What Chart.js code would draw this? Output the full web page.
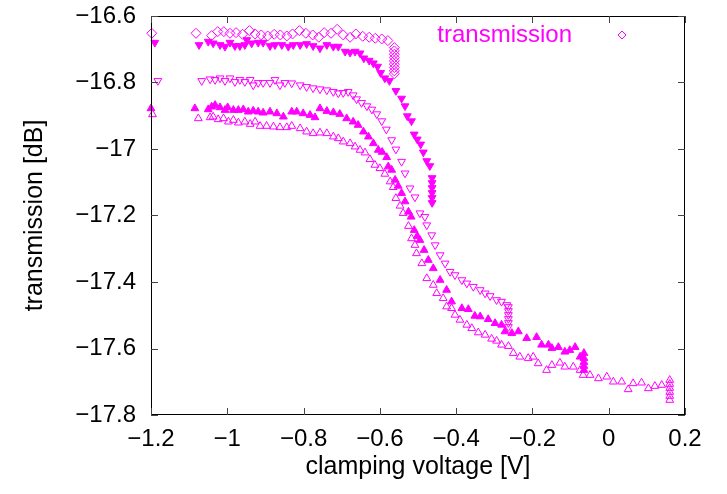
<!DOCTYPE html>
<html>
<head>
<meta charset="utf-8">
<script src="https://cdn.jsdelivr.net/npm/chart.js@4/dist/chart.umd.min.js"></script>
<style>
  html, body { margin: 0; background: #fff; }
  canvas { display: block; }
</style>
</head>
<body>
<canvas id="chart" width="727" height="494"></canvas>
<script>
// tick positions
const xTicks = [-1.2, -1, -0.8, -0.6, -0.4, -0.2, 0, 0.2];
const yTicks = [-17.8, -17.6, -17.4, -17.2, -17, -16.8, -16.6];

// open diamonds (top sweep), [voltage, dB]
const diamonds = [
  [-1.198, -16.652], [-1.082, -16.652], [-1.041, -16.659], [-1.025, -16.647], [-1.009, -16.647],
  [-0.993, -16.652], [-0.977, -16.650], [-0.960, -16.655], [-0.942, -16.644], [-0.927, -16.654],
  [-0.911, -16.657], [-0.894, -16.660], [-0.877, -16.655], [-0.861, -16.657], [-0.844, -16.660],
  [-0.829, -16.654], [-0.811, -16.644], [-0.794, -16.652], [-0.776, -16.657], [-0.760, -16.664],
  [-0.746, -16.650], [-0.728, -16.652], [-0.712, -16.640], [-0.696, -16.657], [-0.678, -16.664],
  [-0.663, -16.654], [-0.645, -16.661], [-0.628, -16.664], [-0.612, -16.667], [-0.595, -16.669],
  [-0.579, -16.674], [-0.562, -16.695], [-0.562, -16.705], [-0.562, -16.715], [-0.562, -16.725],
  [-0.562, -16.735], [-0.562, -16.745], [-0.562, -16.755], [-0.562, -16.765], [-0.562, -16.774]
];

// filled down triangles
const downFilled = [
  [-1.190, -16.680], [-1.074, -16.687], [-1.050, -16.677], [-1.037, -16.682], [-1.019, -16.687],
  [-1.006, -16.692], [-0.993, -16.680], [-0.980, -16.690], [-0.967, -16.690], [-0.954, -16.687],
  [-0.949, -16.672], [-0.936, -16.682], [-0.919, -16.680], [-0.906, -16.680], [-0.888, -16.690],
  [-0.875, -16.687], [-0.857, -16.687], [-0.840, -16.692], [-0.827, -16.687], [-0.809, -16.687],
  [-0.792, -16.684], [-0.775, -16.690], [-0.757, -16.697], [-0.739, -16.687], [-0.722, -16.692],
  [-0.709, -16.692], [-0.691, -16.707], [-0.678, -16.710], [-0.665, -16.707], [-0.652, -16.712],
  [-0.642, -16.727], [-0.628, -16.734], [-0.617, -16.742], [-0.606, -16.752], [-0.598, -16.771],
  [-0.587, -16.787], [-0.575, -16.795], [-0.558, -16.825], [-0.543, -16.848], [-0.534, -16.871],
  [-0.528, -16.901], [-0.517, -16.916], [-0.510, -16.956], [-0.502, -16.971], [-0.493, -16.986],
  [-0.486, -17.010], [-0.477, -17.036], [-0.469, -17.051], [-0.463, -17.087], [-0.463, -17.102],
  [-0.463, -17.117], [-0.463, -17.132], [-0.463, -17.147], [-0.463, -17.162]
];

// open down triangles
const downOpen = [
  [-1.182, -16.795], [-1.067, -16.795], [-1.045, -16.790], [-1.032, -16.792], [-1.019, -16.787],
  [-1.006, -16.795], [-0.993, -16.787], [-0.980, -16.798], [-0.967, -16.792], [-0.954, -16.798],
  [-0.940, -16.792], [-0.932, -16.808], [-0.919, -16.801], [-0.906, -16.801], [-0.888, -16.801],
  [-0.875, -16.792], [-0.862, -16.808], [-0.849, -16.801], [-0.831, -16.802], [-0.809, -16.808],
  [-0.792, -16.813], [-0.775, -16.817], [-0.757, -16.820], [-0.739, -16.823], [-0.722, -16.828],
  [-0.709, -16.832], [-0.696, -16.831], [-0.683, -16.828], [-0.670, -16.838], [-0.661, -16.850],
  [-0.648, -16.861], [-0.634, -16.871], [-0.621, -16.881], [-0.608, -16.895], [-0.595, -16.916],
  [-0.583, -16.941], [-0.569, -16.973], [-0.558, -17.001], [-0.543, -17.038], [-0.534, -17.073],
  [-0.521, -17.118], [-0.508, -17.145], [-0.495, -17.193], [-0.482, -17.204], [-0.477, -17.229],
  [-0.464, -17.259], [-0.455, -17.289], [-0.442, -17.319], [-0.429, -17.344], [-0.416, -17.369],
  [-0.403, -17.379], [-0.385, -17.394], [-0.372, -17.404], [-0.355, -17.414], [-0.337, -17.424],
  [-0.324, -17.434], [-0.311, -17.442], [-0.294, -17.454], [-0.281, -17.459], [-0.267, -17.469],
  [-0.263, -17.475], [-0.263, -17.487], [-0.263, -17.499], [-0.263, -17.511], [-0.263, -17.523],
  [-0.263, -17.535]
];

// filled up triangles
const upFilled = [
  [-1.200, -16.878], [-1.085, -16.878], [-1.050, -16.881], [-1.041, -16.873], [-1.032, -16.868],
  [-1.019, -16.875], [-1.006, -16.883], [-0.999, -16.875], [-0.984, -16.883], [-0.971, -16.883],
  [-0.958, -16.881], [-0.945, -16.888], [-0.932, -16.885], [-0.919, -16.888], [-0.906, -16.891],
  [-0.888, -16.888], [-0.870, -16.893], [-0.853, -16.903], [-0.831, -16.888], [-0.818, -16.888],
  [-0.801, -16.893], [-0.783, -16.898], [-0.770, -16.905], [-0.757, -16.878], [-0.739, -16.886],
  [-0.722, -16.890], [-0.705, -16.895], [-0.687, -16.908], [-0.670, -16.918], [-0.657, -16.928],
  [-0.643, -16.948], [-0.630, -16.963], [-0.617, -16.983], [-0.604, -17.003], [-0.594, -17.009],
  [-0.582, -17.025], [-0.578, -17.053], [-0.569, -17.063], [-0.560, -17.093], [-0.552, -17.111],
  [-0.543, -17.133], [-0.534, -17.158], [-0.525, -17.189], [-0.518, -17.204], [-0.510, -17.244],
  [-0.502, -17.262], [-0.495, -17.274], [-0.484, -17.304], [-0.473, -17.334], [-0.460, -17.359],
  [-0.442, -17.394], [-0.425, -17.424], [-0.412, -17.459], [-0.385, -17.479], [-0.368, -17.482],
  [-0.351, -17.502], [-0.337, -17.504], [-0.316, -17.512], [-0.298, -17.524], [-0.281, -17.529],
  [-0.272, -17.549], [-0.254, -17.554], [-0.237, -17.549], [-0.215, -17.569], [-0.189, -17.566],
  [-0.176, -17.589], [-0.158, -17.589], [-0.149, -17.599], [-0.132, -17.596], [-0.115, -17.610],
  [-0.102, -17.605], [-0.088, -17.596], [-0.075, -17.625], [-0.065, -17.614], [-0.065, -17.629],
  [-0.065, -17.641], [-0.065, -17.653], [-0.065, -17.665]
];

// open up triangles (lowest sweep)
const upOpen = [
  [-1.196, -16.896], [-1.076, -16.908], [-1.045, -16.905], [-1.037, -16.903], [-1.024, -16.911],
  [-1.010, -16.908], [-0.997, -16.918], [-0.984, -16.913], [-0.971, -16.921], [-0.954, -16.918],
  [-0.940, -16.925], [-0.927, -16.918], [-0.914, -16.931], [-0.897, -16.931], [-0.879, -16.933],
  [-0.862, -16.935], [-0.844, -16.935], [-0.831, -16.931], [-0.809, -16.938], [-0.792, -16.948],
  [-0.775, -16.953], [-0.757, -16.951], [-0.739, -16.953], [-0.722, -16.963], [-0.709, -16.968],
  [-0.696, -16.978], [-0.678, -16.983], [-0.665, -16.993], [-0.652, -17.003], [-0.639, -17.011],
  [-0.626, -17.031], [-0.613, -17.048], [-0.600, -17.058], [-0.587, -17.075], [-0.573, -17.098],
  [-0.565, -17.115], [-0.558, -17.148], [-0.547, -17.171], [-0.539, -17.193], [-0.525, -17.232],
  [-0.517, -17.269], [-0.508, -17.289], [-0.504, -17.314], [-0.490, -17.344], [-0.477, -17.389],
  [-0.460, -17.409], [-0.451, -17.434], [-0.434, -17.449], [-0.425, -17.474], [-0.412, -17.479],
  [-0.403, -17.499], [-0.390, -17.514], [-0.372, -17.529], [-0.359, -17.539], [-0.342, -17.552],
  [-0.324, -17.559], [-0.307, -17.571], [-0.294, -17.577], [-0.281, -17.589], [-0.263, -17.593],
  [-0.250, -17.614], [-0.233, -17.625], [-0.211, -17.629], [-0.198, -17.625], [-0.185, -17.645],
  [-0.163, -17.665], [-0.149, -17.650], [-0.128, -17.643], [-0.115, -17.655], [-0.093, -17.655],
  [-0.075, -17.665], [-0.067, -17.680], [-0.049, -17.680], [-0.027, -17.690], [-0.005, -17.685],
  [0.012, -17.700], [0.034, -17.700], [0.051, -17.723], [0.064, -17.705], [0.086, -17.703],
  [0.104, -17.720], [0.121, -17.713], [0.139, -17.710], [0.160, -17.695], [0.160, -17.707],
  [0.160, -17.719], [0.160, -17.731], [0.160, -17.743], [0.160, -17.755]
];

const MAGENTA = '#ff00ff';
const FONT = 'Liberation Sans, Arial, Helvetica, sans-serif';

function toPoints(arr) {
  return arr.map(p => ({ x: p[0], y: p[1] }));
}

function series(label, arr, style, rot, filled) {
  const r = style === 'rectRot' ? 5 : 4.5;
  return {
    label: label,
    data: toPoints(arr),
    pointStyle: style,
    rotation: rot,
    pointRadius: r,
    pointHoverRadius: r,
    borderColor: MAGENTA,
    backgroundColor: filled ? MAGENTA : 'rgba(0,0,0,0)',
    borderWidth: 1,
    clip: false
  };
}

function fmt(v) {
  const r = Math.round(v * 10) / 10;
  return String(r).replace('-', '\u2212');
}

// gnuplot style border with inward ticks on all four sides
const gnuFrame = {
  id: 'gnuFrame',
  afterDatasetsDraw(chart) {
    const { ctx, chartArea: a, scales } = chart;
    ctx.save();
    ctx.strokeStyle = '#000';
    ctx.lineWidth = 1;
    ctx.strokeRect(a.left + 0.5, a.top + 0.5, a.right - a.left - 1, a.bottom - a.top - 1);
    ctx.strokeStyle = '#444';
    const len = 7;
    ctx.beginPath();
    scales.x.ticks.forEach(t => {
      const px = Math.round(scales.x.getPixelForValue(t.value)) + 0.5;
      ctx.moveTo(px, a.bottom); ctx.lineTo(px, a.bottom - len);
      ctx.moveTo(px, a.top); ctx.lineTo(px, a.top + len);
    });
    scales.y.ticks.forEach(t => {
      const py = Math.round(scales.y.getPixelForValue(t.value)) + 0.5;
      ctx.moveTo(a.left, py); ctx.lineTo(a.left + len, py);
      ctx.moveTo(a.right, py); ctx.lineTo(a.right - len, py);
    });
    ctx.stroke();
    ctx.restore();
  }
};

// key in the top right corner: text then sample marker
const gnuKey = {
  id: 'gnuKey',
  afterDraw(chart) {
    const { ctx, chartArea: a } = chart;
    const ds = chart.data.datasets[0];
    const ty = a.top + 19;
    ctx.save();
    ctx.font = '24px ' + FONT;
    ctx.fillStyle = MAGENTA;
    ctx.textAlign = 'right';
    ctx.textBaseline = 'middle';
    ctx.fillText(ds.label, a.right - 113, ty);
    ctx.strokeStyle = MAGENTA;
    ctx.fillStyle = 'rgba(0,0,0,0)';
    ctx.lineWidth = 1;
    Chart.helpers.drawPoint(ctx, { pointStyle: 'rectRot', radius: 4, borderWidth: 1, rotation: 0 }, a.right - 63, ty);
    ctx.restore();
  }
};

new Chart(document.getElementById('chart').getContext('2d'), {
  type: 'scatter',
  data: {
    datasets: [
      series('transmission', diamonds, 'rectRot', 0, false),
      series('', downFilled, 'triangle', 180, true),
      series('', downOpen, 'triangle', 180, false),
      series('', upFilled, 'triangle', 0, true),
      series('', upOpen, 'triangle', 0, false)
    ]
  },
  options: {
    responsive: false,
    animation: false,
    events: [],
    layout: { padding: { left: 0, right: 42, top: 16, bottom: 0 } },
    plugins: {
      legend: { display: false },
      tooltip: { enabled: false }
    },
    scales: {
      x: {
        type: 'linear',
        min: -1.2,
        max: 0.2,
        afterBuildTicks: s => { s.ticks = xTicks.map(v => ({ value: v })); },
        afterFit: s => { s.height = 79; s.paddingLeft = 0; s.paddingRight = 0; },
        grid: { display: false, drawTicks: false },
        border: { display: false },
        ticks: {
          color: '#000',
          padding: 10,
          maxRotation: 0,
          font: { family: FONT, size: 24 },
          callback: v => fmt(v)
        },
        title: {
          display: true,
          text: 'clamping voltage [V]',
          color: '#000',
          font: { family: FONT, size: 25 },
          padding: { top: 0, bottom: 12 }
        }
      },
      y: {
        type: 'linear',
        min: -17.8,
        max: -16.6,
        afterBuildTicks: s => { s.ticks = yTicks.map(v => ({ value: v })); },
        afterFit: s => { s.width = 151; s.paddingTop = 0; s.paddingBottom = 0; },
        grid: { display: false, drawTicks: false },
        border: { display: false },
        ticks: {
          color: '#000',
          padding: 15,
          font: { family: FONT, size: 24 },
          callback: v => fmt(v)
        },
        title: {
          display: true,
          text: 'transmission [dB]',
          color: '#000',
          font: { family: FONT, size: 25 },
          padding: { top: 20, bottom: 0 }
        }
      }
    }
  },
  plugins: [gnuFrame, gnuKey]
});
</script>
</body>
</html>
